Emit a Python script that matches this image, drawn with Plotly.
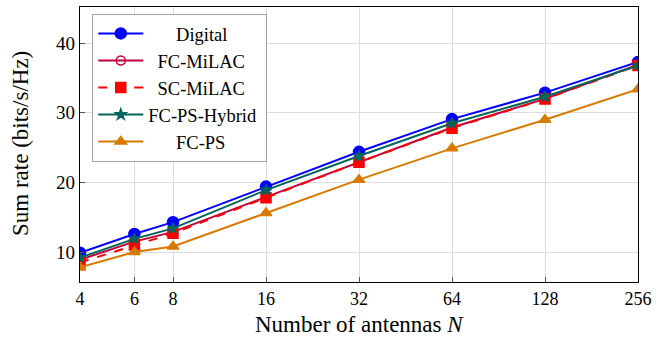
import plotly.graph_objects as go

# Number of antennas and sum rate (bits/s/Hz) per scheme
antennas = [4, 6, 8, 16, 32, 64, 128, 256]
tick_labels = ["4", "6", "8", "16", "32", "64", "128", "256"]

digital = [9.9, 12.6, 14.3, 19.4, 24.4, 29.1, 32.9, 37.3]
fc_milac = [8.9, 11.5, 12.9, 17.9, 23.0, 27.9, 32.0, 36.9]
sc_milac = [8.5, 11.0, 12.7, 17.8, 22.9, 27.8, 32.0, 36.8]
fc_ps_hybrid = [9.2, 11.9, 13.4, 18.9, 23.8, 28.5, 32.3, 36.8]
fc_ps = [7.8, 10.0, 10.8, 15.6, 20.4, 24.9, 29.0, 33.4]

series = [
    ("Digital", digital, "#0000FF", "solid", "circle", 11),
    ("FC-MiLAC", fc_milac, "#C0003C", "solid", "circle-open", 9),
    ("SC-MiLAC", sc_milac, "#FF0000", "dash", "square", 10),
    ("FC-PS-Hybrid", fc_ps_hybrid, "#00665C", "solid", "star", 8),
    ("FC-PS", fc_ps, "#D97A00", "solid", "triangle-up", 10),
]

# Legend labels are centred in their column by padding with no-break spaces
NBSP = "\u00a0"
label_pad = {"Digital": 6, "FC-MiLAC": 2, "SC-MiLAC": 2, "FC-PS-Hybrid": 0, "FC-PS": 6}

fig = go.Figure()
for name, vals, color, dash, symbol, size in series:
    pad = NBSP * label_pad[name]
    fig.add_trace(go.Scatter(
        x=antennas, y=vals, name=pad + name + pad + NBSP, mode="lines+markers",
        line=dict(color=color, width=2, dash=dash),
        marker=dict(symbol=symbol, size=size, color=color,
                    line=dict(color=color, width=1.5)),
    ))

font_family = "Liberation Serif"

fig.update_layout(
    width=664, height=338,
    margin=dict(l=80, r=26, t=7, b=56),
    paper_bgcolor="white", plot_bgcolor="white",
    font=dict(family=font_family, size=18, color="black"),
    showlegend=True,
    legend=dict(
        x=0.022, y=0.975, xanchor="left", yanchor="top",
        bgcolor="white", bordercolor="#A0A0A0", borderwidth=1,
        font=dict(family=font_family, size=18.5),
        tracegroupgap=0, itemwidth=45,
    ),
    annotations=[
        dict(text="Number of antennas <i>N</i>", xref="paper", yref="paper",
             x=0.5, y=-0.153, xanchor="center", yanchor="middle",
             showarrow=False, font=dict(size=23)),
        dict(text="Sum rate (bits/s/Hz)", xref="paper", yref="paper",
             x=-0.107, y=0.503, xanchor="center", yanchor="middle",
             textangle=-90, showarrow=False, font=dict(size=23)),
    ],
)

fig.update_xaxes(
    type="log", range=[0.60206, 2.40824],
    tickvals=antennas, ticktext=tick_labels,
    showgrid=True, gridcolor="#DCDCDC", gridwidth=1,
    showline=True, linecolor="black", linewidth=1.2, mirror=True,
    ticks="inside", ticklen=5, tickcolor="#555555",
    tickfont=dict(size=18), automargin=False,
    zeroline=False,
)
fig.update_yaxes(
    range=[5.7, 45.2],
    tickvals=[10, 20, 30, 40],
    showgrid=True, gridcolor="#DCDCDC", gridwidth=1,
    showline=True, linecolor="black", linewidth=1.2, mirror=True,
    ticks="inside", ticklen=5, tickcolor="#555555",
    tickfont=dict(size=19), automargin=False,
    zeroline=False,
)

fig.write_html("out.html")
